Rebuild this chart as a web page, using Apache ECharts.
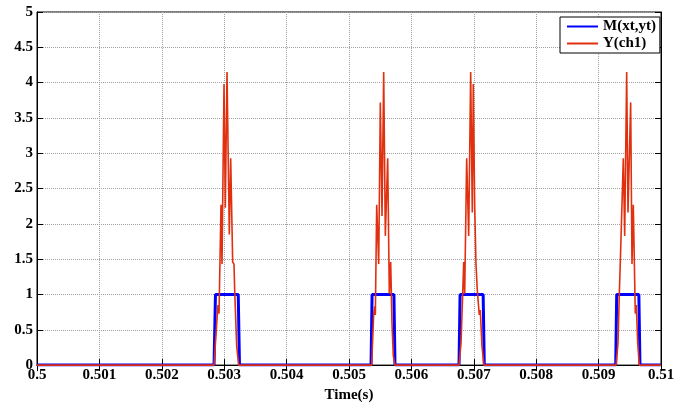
<!DOCTYPE html>
<html>
<head>
<meta charset="utf-8">
<script src="https://cdn.jsdelivr.net/npm/echarts@6/dist/echarts.min.js"></script>
<style>
  html, body { margin: 0; padding: 0; background: #fff; }
  #main { width: 685px; height: 408px; }
</style>
</head>
<body>
<div id="main"></div>
<script>
// M(xt,yt) - square pulses
var blueTime = [0.5, 0.502837, 0.50286, 0.503225, 0.503245,
                0.505353, 0.50537, 0.50572, 0.505737,
                0.506763, 0.50678, 0.50715, 0.507168,
                0.509274, 0.50929, 0.509645, 0.509663, 0.51];
var blueValue = [0, 0, 1, 1, 0,
                 0, 1, 1, 0,
                 0, 1, 1, 0,
                 0, 1, 1, 0, 0];

// Y(ch1) - ringing spikes
var redTime = [0.5,
  0.502837, 0.50288, 0.502901, 0.502917, 0.502949, 0.502965, 0.502997, 0.503018, 0.503045,
  0.503082, 0.503104, 0.503136, 0.503157, 0.503168, 0.5032, 0.503232,
  0.505363, 0.505396, 0.505412, 0.505422, 0.505444, 0.505476, 0.505502, 0.505529, 0.505556,
  0.505582, 0.50562, 0.505646, 0.505668, 0.505689, 0.50571, 0.505737,
  0.506763, 0.506795, 0.506822, 0.506838, 0.506854, 0.506886, 0.506918, 0.50695, 0.506976,
  0.506992, 0.507014, 0.507035, 0.507056, 0.507088, 0.507104, 0.507131, 0.507163,
  0.509279, 0.509311, 0.509332, 0.509348, 0.509396, 0.509418, 0.50945, 0.509471, 0.509514,
  0.509535, 0.509556, 0.509588, 0.509604, 0.509627, 0.509652,
  0.51];
var redValue = [0,
  0, 0.59, 0.85, 0.73, 2.27, 1.43, 3.98, 2.23, 4.15,
  1.85, 2.93, 1.46, 1.43, 1.06, 0.27, 0,
  0, 0.73, 0.83, 0.71, 2.27, 1.43, 3.72, 2.11, 4.15,
  1.83, 2.93, 1.01, 1.46, 0.59, 0.13, 0,
  0, 0.31, 1.01, 1.46, 1.01, 2.93, 1.83, 4.15, 2.16,
  3.98, 2.27, 1.43, 1.06, 0.71, 0.78, 0.27, 0,
  0, 0.31, 1.01, 1.46, 2.93, 1.83, 4.15, 2.16, 3.72,
  1.43, 2.27, 0.73, 0.85, 0.31, 0,
  0];

var xTicks = ['0.5', '0.501', '0.502', '0.503', '0.504', '0.505', '0.506', '0.507', '0.508', '0.509', '0.51'];

function pairs(t, v) {
  var out = [];
  for (var i = 0; i < t.length; i++) out.push([t[i], v[i]]);
  return out;
}

var chart = echarts.init(document.getElementById('main'));
var font = 'Liberation Serif';

var option = {
  animation: false,
  backgroundColor: '#fff',
  grid: {
    left: 37, right: 24, top: 12, bottom: 39,
    show: true, borderColor: '#000', borderWidth: 1
  },
  legend: {
    orient: 'vertical',
    left: 560, top: 17,
    padding: [2, 4, 2, 6],
    itemGap: 2,
    itemWidth: 31,
    itemHeight: 15,
    backgroundColor: '#fff',
    borderColor: '#000',
    borderWidth: 1,
    // hide the default circle marker, keep only the line
    itemStyle: { color: 'transparent', borderColor: 'transparent', borderWidth: 0, opacity: 0 },
    textStyle: { fontFamily: font, fontWeight: 'bold', fontSize: 15, color: '#000' },
    data: ['M(xt,yt)', 'Y(ch1)']
  },
  xAxis: [{
    type: 'value',
    min: 0.5, max: 0.51, interval: 0.001,
    name: 'Time(s)',
    nameLocation: 'middle',
    nameGap: 22,
    nameTextStyle: { fontFamily: font, fontWeight: 'bold', fontSize: 15, color: '#000' },
    axisLine: { lineStyle: { color: '#000', width: 1 } },
    axisTick: { inside: true, length: 6, lineStyle: { color: '#000' } },
    axisLabel: {
      margin: 3,
      fontFamily: font, fontWeight: 'bold', fontSize: 15, color: '#000',
      formatter: function (v) {
        var i = Math.round((v - 0.5) / 0.001);
        return xTicks[i] !== undefined ? xTicks[i] : '';
      }
    },
    splitLine: { show: true, lineStyle: { color: '#a0a0a0', type: 'dotted', width: 1 } }
  }, {
    type: 'value', position: 'top',
    min: 0.5, max: 0.51, interval: 0.001,
    axisLine: { show: true, lineStyle: { color: '#000' } },
    axisTick: { inside: true, length: 6, lineStyle: { color: '#000' } },
    axisLabel: { show: false },
    splitLine: { show: false }
  }],
  yAxis: [{
    type: 'value',
    min: 0, max: 5, interval: 0.5,
    axisLine: { show: true, lineStyle: { color: '#000', width: 1 } },
    axisTick: { show: true, inside: true, length: 6, lineStyle: { color: '#000' } },
    axisLabel: { margin: 4, fontFamily: font, fontWeight: 'bold', fontSize: 15, color: '#000' },
    splitLine: { show: true, lineStyle: { color: '#a0a0a0', type: 'dotted', width: 1 } }
  }, {
    type: 'value', position: 'right',
    min: 0, max: 5, interval: 0.5,
    axisLine: { show: true, lineStyle: { color: '#000' } },
    axisTick: { show: true, inside: true, length: 6, lineStyle: { color: '#000' } },
    axisLabel: { show: false },
    splitLine: { show: false }
  }],
  series: [{
    name: 'M(xt,yt)',
    type: 'line',
    symbol: 'none',
    lineStyle: { color: '#0000ff', width: 3 },
    itemStyle: { color: '#0000ff' },
    data: pairs(blueTime, blueValue)
  }, {
    name: 'Y(ch1)',
    type: 'line',
    symbol: 'none',
    lineStyle: { color: '#e0300f', width: 1.6 },
    itemStyle: { color: '#e0300f' },
    data: pairs(redTime, redValue)
  }]
};

chart.setOption(option);
</script>
</body>
</html>
